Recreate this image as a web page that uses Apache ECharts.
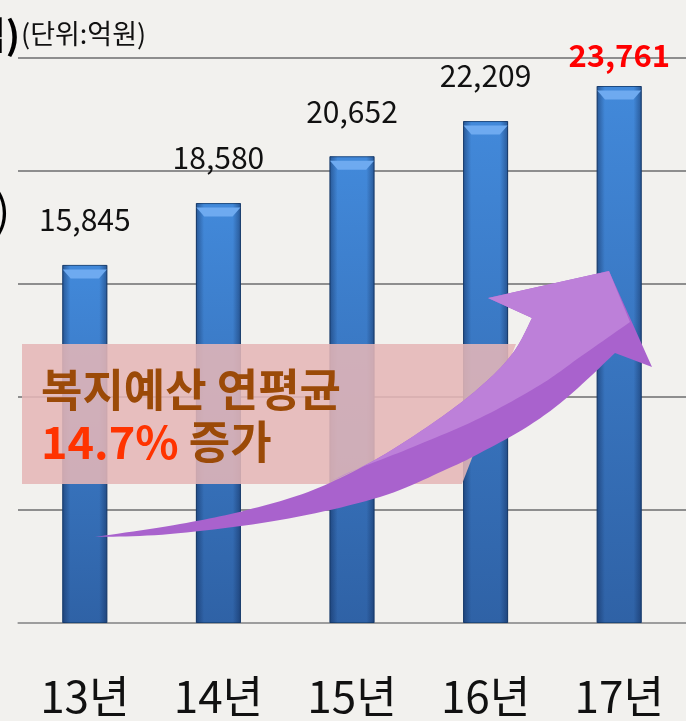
<!DOCTYPE html>
<html>
<head>
<meta charset="utf-8">
<script src="https://cdn.jsdelivr.net/npm/echarts@6/dist/echarts.min.js"></script>
<style>
  html, body { margin: 0; padding: 0; background: #f2f1ee; }
  #chart { width: 686px; height: 721px; }
</style>
</head>
<body>
<div id="chart"></div>
<script>
const years = ["13년", "14년", "15년", "16년", "17년"];
const budget = [15845, 18580, 20652, 22209, 23761];
const axisMax = 25000;
const axisStep = 5000;

const FONT = "'Noto Sans CJK KR', 'Noto Sans', sans-serif";

// smooth curve through points (catmull-rom), sampled into polygon points
function spline(pts) {
  const out = [pts[0]];
  for (let i = 0; i < pts.length - 1; i++) {
    const p0 = pts[i - 1] || pts[i];
    const p1 = pts[i];
    const p2 = pts[i + 1];
    const p3 = pts[i + 2] || p2;
    const c1 = [p1[0] + (p2[0] - p0[0]) / 6, p1[1] + (p2[1] - p0[1]) / 6];
    const c2 = [p2[0] - (p3[0] - p1[0]) / 6, p2[1] - (p3[1] - p1[1]) / 6];
    for (let k = 1; k <= 12; k++) {
      const t = k / 12, u = 1 - t;
      out.push([
        u * u * u * p1[0] + 3 * u * u * t * c1[0] + 3 * u * t * t * c2[0] + t * t * t * p2[0],
        u * u * u * p1[1] + 3 * u * u * t * c1[1] + 3 * u * t * t * c2[1] + t * t * t * p2[1],
      ]);
    }
  }
  return out;
}

// decorative arrow outline (screen pixels)
const upper = [[95, 537], [180, 524], [247, 510], [313, 490], [380, 457], [447, 413], [490, 378], [515, 350], [532, 318]];
const lower = [[615, 353], [570, 395], [530, 425], [480, 453], [447, 469], [380, 497], [280, 520], [170, 534], [95, 537]];
const arrowPts = spline(upper)
  .concat([[488, 298], [609, 271], [652, 367]])
  .concat(spline(lower));
const lightPts = spline([[325, 484], [380, 457], [447, 413], [490, 378], [515, 350], [532, 318]])
  .concat([[488, 298], [609, 271]])
  .concat(spline([[630, 322], [580, 357], [540, 385], [480, 418], [413, 447], [357, 469], [325, 484]]));

const barData = budget.map(function(v, i) {
  if (i === budget.length - 1) {
    return {
      value: v,
      label: { color: "#ff0000", fontWeight: "bold", fontSize: 31, distance: 15 },
    };
  }
  return v;
});

const chart = echarts.init(document.getElementById("chart"));
chart.setOption({
  backgroundColor: "#f2f1ee",
  animation: false,
  grid: { left: 18, top: 58, width: 670, height: 565 },
  xAxis: {
    type: "category",
    data: years,
    axisLine: { lineStyle: { color: "#a3a3a3", width: 1.5 } },
    axisTick: { length: 16, lineStyle: { color: "#a3a3a3", width: 1.5 } },
    axisLabel: { margin: 51, fontSize: 44, color: "#111", fontFamily: FONT },
  },
  yAxis: {
    type: "value",
    min: 0,
    max: axisMax,
    interval: axisStep,
    axisLabel: { show: false },
    axisLine: { show: false },
    axisTick: { show: false },
    splitLine: { lineStyle: { color: "#8e8e8e", width: 2 } },
  },
  series: [
    {
      type: "bar",
      barWidth: 45,
      data: barData,
      itemStyle: {
        color: new echarts.graphic.LinearGradient(0, 0, 0, 1, [
          { offset: 0, color: "#4289da" },
          { offset: 1, color: "#2f62a6" },
        ]),
        borderColor: "#1d4a80",
        borderWidth: 1,
      },
      label: {
        show: true,
        position: "top",
        distance: 30,
        fontSize: 30,
        color: "#111",
        fontFamily: FONT,
        formatter: function(p) {
          return p.value.toLocaleString("en-US");
        },
      },
      z: 2,
    },
    {
      type: "bar",
      barWidth: 45,
      barGap: "-100%",
      silent: true,
      data: budget,
      itemStyle: {
        color: new echarts.graphic.LinearGradient(0, 0, 1, 0, [
          { offset: 0, color: "rgba(10,30,70,0.45)" },
          { offset: 0.18, color: "rgba(10,30,70,0)" },
          { offset: 0.82, color: "rgba(10,30,70,0)" },
          { offset: 1, color: "rgba(10,30,70,0.45)" },
        ]),
      },
      z: 3,
    },
    {
      type: "pictorialBar",
      barWidth: 45,
      silent: true,
      data: budget,
      symbol: "path://M0,0 L45,0 L37,9 L8,9 Z",
      symbolSize: [44, 9],
      symbolPosition: "end",
      symbolOffset: [0, "50%"],
      itemStyle: { color: "#6eaaf0" },
      z: 4,
    },
  ],
  graphic: [
    {
      type: "text",
      x: 21,
      y: 34,
      style: { text: "(단위:억원)", fontSize: 27, fill: "#111", fontFamily: FONT, verticalAlign: "middle" },
    },
    {
      type: "text",
      x: 20,
      y: 35,
      style: { text: "섭)", align: "right", verticalAlign: "middle", fill: "#000", fontSize: 38, fontWeight: "bold", fontFamily: FONT },
    },
    {
      type: "text",
      x: 10,
      y: 210,
      style: { text: ")", align: "right", verticalAlign: "middle", fill: "#000", fontSize: 44, fontFamily: FONT },
    },
    {
      type: "polygon",
      z: 100,
      shape: { points: [[22, 344], [516, 344], [462, 484], [22, 484]] },
      style: { fill: "rgba(229,182,183,0.88)" },
    },
    {
      type: "polygon",
      z: 101,
      shape: { points: arrowPts },
      style: { fill: "#a962cd" },
    },
    {
      type: "polygon",
      z: 102,
      shape: { points: lightPts },
      style: { fill: "#bd80d9" },
    },
    {
      type: "text",
      z: 103,
      x: 41,
      y: 364,
      style: {
        text: "{a|복지예산 연평균}\n{b|14.7%}{a| 증가}",
        rich: {
          a: { fontSize: 45, fontWeight: "bold", fill: "#9b4a08", fontFamily: FONT, lineHeight: 52 },
          b: { fontSize: 45, fontWeight: "bold", fill: "#ff3300", fontFamily: FONT, lineHeight: 52 },
        },
      },
    },
  ],
});
</script>
</body>
</html>
